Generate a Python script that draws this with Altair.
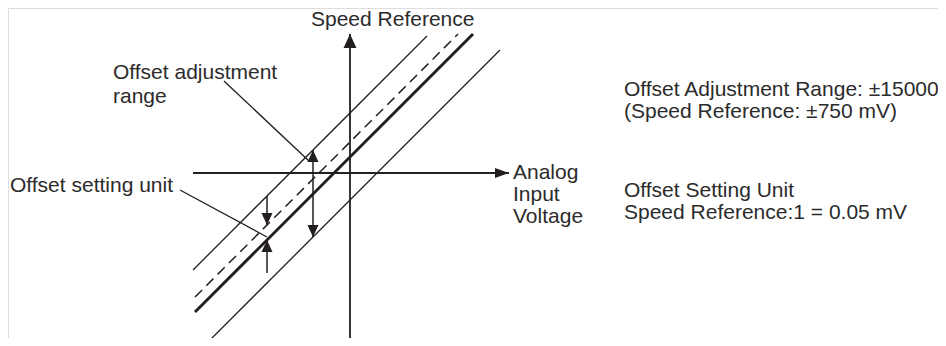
import altair as alt
import pandas as pd

# Diagram coordinates: origin at the crossing of the two axes, 1 unit = 1 px, v points up.
# Characteristic lines v = u + intercept, drawn from u_start to u_end
line_names = ["upper limit", "offset (dashed)", "characteristic", "lower limit"]
line_intercepts = [60, 31, 16, -27]
line_u_start = [-157, -155, -155, -143]
line_u_end = [77, 108, 123, 150]

# Axes (arrow at the second end)
axis_names = ["Analog Input Voltage", "Speed Reference"]
axis_u1 = [-157, 0]
axis_v1 = [0, -170]
axis_u2 = [159, 0]
axis_v2 = [0, 139]

# Labels
label_texts = ["Speed Reference", "Offset adjustment", "range", "Offset setting unit",
               "Analog", "Input", "Voltage",
               "Offset Adjustment Range: \u00b115000", "(Speed Reference: \u00b1750 mV)",
               "Offset Setting Unit", "Speed Reference:1 = 0.05 mV"]
label_u = [-39, -237, -237, -340, 163, 163, 163, 274, 274, 274, 274]
label_v = [153, 100, 76, -13, 0, -22, -44, 83, 61, -18, -40]

# Leader lines
leader_u1 = [-126, -170]
leader_v1 = [92, -17]
leader_u2 = [-41, -83]
leader_v2 = [12, -64]

# Measurement arrows positions
range_arrow_u = -37        # offset adjustment range (between upper and lower limit)
unit_arrow_u = -83         # offset setting unit (between dashed and characteristic)
unit_arrow_tail_v = -100

def line_v(i, u):
    return u + line_intercepts[i]

lines = pd.DataFrame({
    "name": line_names,
    "u1": line_u_start,
    "v1": [line_v(i, u) for i, u in enumerate(line_u_start)],
    "u2": line_u_end,
    "v2": [line_v(i, u) for i, u in enumerate(line_u_end)],
})
axes_df = pd.DataFrame({"name": axis_names, "u1": axis_u1, "v1": axis_v1, "u2": axis_u2, "v2": axis_v2})
labels = pd.DataFrame({"text": label_texts, "u": label_u, "v": label_v})
leaders = pd.DataFrame({"u1": leader_u1, "v1": leader_v1, "u2": leader_u2, "v2": leader_v2})

# measurement arrow shafts
shafts = pd.DataFrame({
    "u1": [range_arrow_u, unit_arrow_u, unit_arrow_u],
    "v1": [line_v(3, range_arrow_u), line_v(0, unit_arrow_u), unit_arrow_tail_v],
    "u2": [range_arrow_u, unit_arrow_u, unit_arrow_u],
    "v2": [line_v(0, range_arrow_u), line_v(1, unit_arrow_u), line_v(2, unit_arrow_u)],
})
heads = pd.DataFrame({
    "u": [range_arrow_u, range_arrow_u, unit_arrow_u, unit_arrow_u],
    "v": [line_v(0, range_arrow_u), line_v(3, range_arrow_u), line_v(1, unit_arrow_u), line_v(2, unit_arrow_u)],
    "dir": ["up", "down", "down", "up"],
})
axis_heads = pd.DataFrame({"u": axis_u2, "v": axis_v2, "dir": ["right", "up"]})

W, H = 930, 330
X0, Y0 = 342, 165  # position of origin inside the plot area
xs = alt.Scale(domain=[-X0, W - X0], nice=False, zero=False)
ys = alt.Scale(domain=[Y0 - H, Y0], nice=False, zero=False)
X = lambda f: alt.X(f, type="quantitative", scale=xs, axis=None)
Y = lambda f: alt.Y(f, type="quantitative", scale=ys, axis=None)

INK = "#231f20"
TXT = "#2b2b2b"
shape_scale = alt.Scale(domain=["up", "down", "right"],
                        range=["M0,0L-0.46,1L0.46,1Z", "M0,0L-0.46,-1L0.46,-1Z", "M0,0L-1,-0.36L-1,0.36Z"])

def seg(df, **kw):
    return alt.Chart(df).mark_rule(color=INK, **kw).encode(
        x=X("u1"), y=Y("v1"), x2="u2", y2="v2")

thin = seg(lines[lines["name"].isin(["upper limit", "lower limit"])], strokeWidth=1.3)
dashed = seg(lines[lines["name"] == "offset (dashed)"], strokeWidth=1.5, strokeDash=[10, 6])
thick = seg(lines[lines["name"] == "characteristic"], strokeWidth=3)
axes_l = seg(axes_df, strokeWidth=1.8)
leader_l = seg(leaders, strokeWidth=1.3)
shaft_l = seg(shafts, strokeWidth=1.5)

head_l = alt.Chart(heads).mark_point(filled=True, color=INK, opacity=1, size=576, strokeWidth=0).encode(
    x=X("u"), y=Y("v"), shape=alt.Shape("dir:N", scale=shape_scale, legend=None))
axis_head_l = alt.Chart(axis_heads).mark_point(filled=True, color=INK, opacity=1, size=784, strokeWidth=0).encode(
    x=X("u"), y=Y("v"), shape=alt.Shape("dir:N", scale=shape_scale, legend=None))

text_l = alt.Chart(labels).mark_text(align="left", baseline="middle", font="Liberation Sans",
                                     fontSize=21, color=TXT).encode(
    x=X("u"), y=Y("v"), text="text:N")

chart = alt.layer(thin, dashed, thick, axes_l, leader_l, shaft_l, head_l, axis_head_l, text_l).properties(
    width=W, height=H, padding=0, autosize=alt.AutoSizeParams(type="none")
).configure_view(stroke=None).configure(background="white")

chart.save("out.html", embed_options={"renderer": "svg", "actions": False})
